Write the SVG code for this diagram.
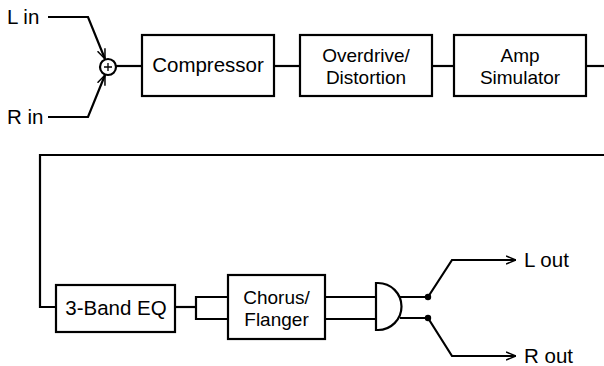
<svg xmlns="http://www.w3.org/2000/svg" width="604" height="366" viewBox="0 0 604 366">
<defs>
<style>
.box{fill:#fff;stroke:#000;stroke-width:2.2}
.ln{fill:none;stroke:#000;stroke-width:2.2}
.t{font-family:"Liberation Sans",Arial,sans-serif;font-size:20.5px;fill:#000}
.t2{font-size:19px}
.c{text-anchor:middle}
</style>
<marker id="ah" viewBox="0 0 10 10" refX="10" refY="5" markerWidth="10" markerHeight="10" markerUnits="userSpaceOnUse" orient="auto">
<path d="M0,1 L10,5 L0,9" fill="none" stroke="#000" stroke-width="1.5"/>
</marker>
</defs>
<rect width="604" height="366" fill="#fff"/>
<g id="connectors">
<polyline class="ln" points="48,17 88,17 105,59" marker-end="url(#ah)"/>
<polyline class="ln" points="48,117 88,117 105,75" marker-end="url(#ah)"/>
<line class="ln" x1="116" y1="66" x2="142" y2="66"/>
<line class="ln" x1="274" y1="66" x2="300" y2="66"/>
<line class="ln" x1="432" y1="66" x2="454" y2="66"/>
<line class="ln" x1="586" y1="66" x2="604" y2="66"/>
<polyline class="ln" points="604,155 40,155 40,307 56,307"/>
<polyline class="ln" points="175,307 196,307"/>
<polyline class="ln" points="228,297 196,297 196,319 228,319"/>
<line class="ln" x1="325" y1="297" x2="376" y2="297"/>
<line class="ln" x1="325" y1="319" x2="376" y2="319"/>
<polyline class="ln" points="400,297 428,297 452,260 516,260" marker-end="url(#ah)"/>
<polyline class="ln" points="400,318 428,318 452,356 516,356" marker-end="url(#ah)"/>
<circle cx="428" cy="297" r="3.2" fill="#000"/>
<circle cx="428" cy="318" r="3.2" fill="#000"/>
</g>
<g id="lin"><text class="t" x="7" y="24">L in</text></g>
<g id="rin"><text class="t" x="7" y="124">R in</text></g>
<g id="mixer">
<circle cx="108" cy="67" r="8" fill="#fff" stroke="#000" stroke-width="2.2"/>
<path d="M104,67 H112 M108,63 V71" stroke="#000" stroke-width="1.3"/>
</g>
<g id="compressor"><rect class="box" x="142" y="35" width="132" height="61"/><text class="t c" x="208" y="72">Compressor</text></g>
<g id="overdrive"><rect class="box" x="300" y="35" width="132" height="61"/><text class="t t2 c" x="366" y="62">Overdrive/</text><text class="t t2 c" x="366" y="84">Distortion</text></g>
<g id="amp"><rect class="box" x="454" y="35" width="132" height="61"/><text class="t t2 c" x="520" y="62">Amp</text><text class="t t2 c" x="520" y="84">Simulator</text></g>
<g id="eq"><rect class="box" x="56" y="285" width="119" height="47"/><text class="t c" x="116" y="315">3-Band EQ</text></g>
<g id="chorus"><rect class="box" x="228" y="275" width="97" height="64"/><text class="t t2 c" x="276.5" y="304">Chorus/</text><text class="t t2 c" x="276.5" y="326">Flanger</text></g>
<g id="gate"><path class="box" d="M376,283 L378,283 A23.5,23.5 0 0 1 378,330 L376,330 Z"/></g>
<g id="lout"><text class="t" x="524" y="267">L out</text></g>
<g id="rout"><text class="t" x="524" y="363">R out</text></g>
</svg>
